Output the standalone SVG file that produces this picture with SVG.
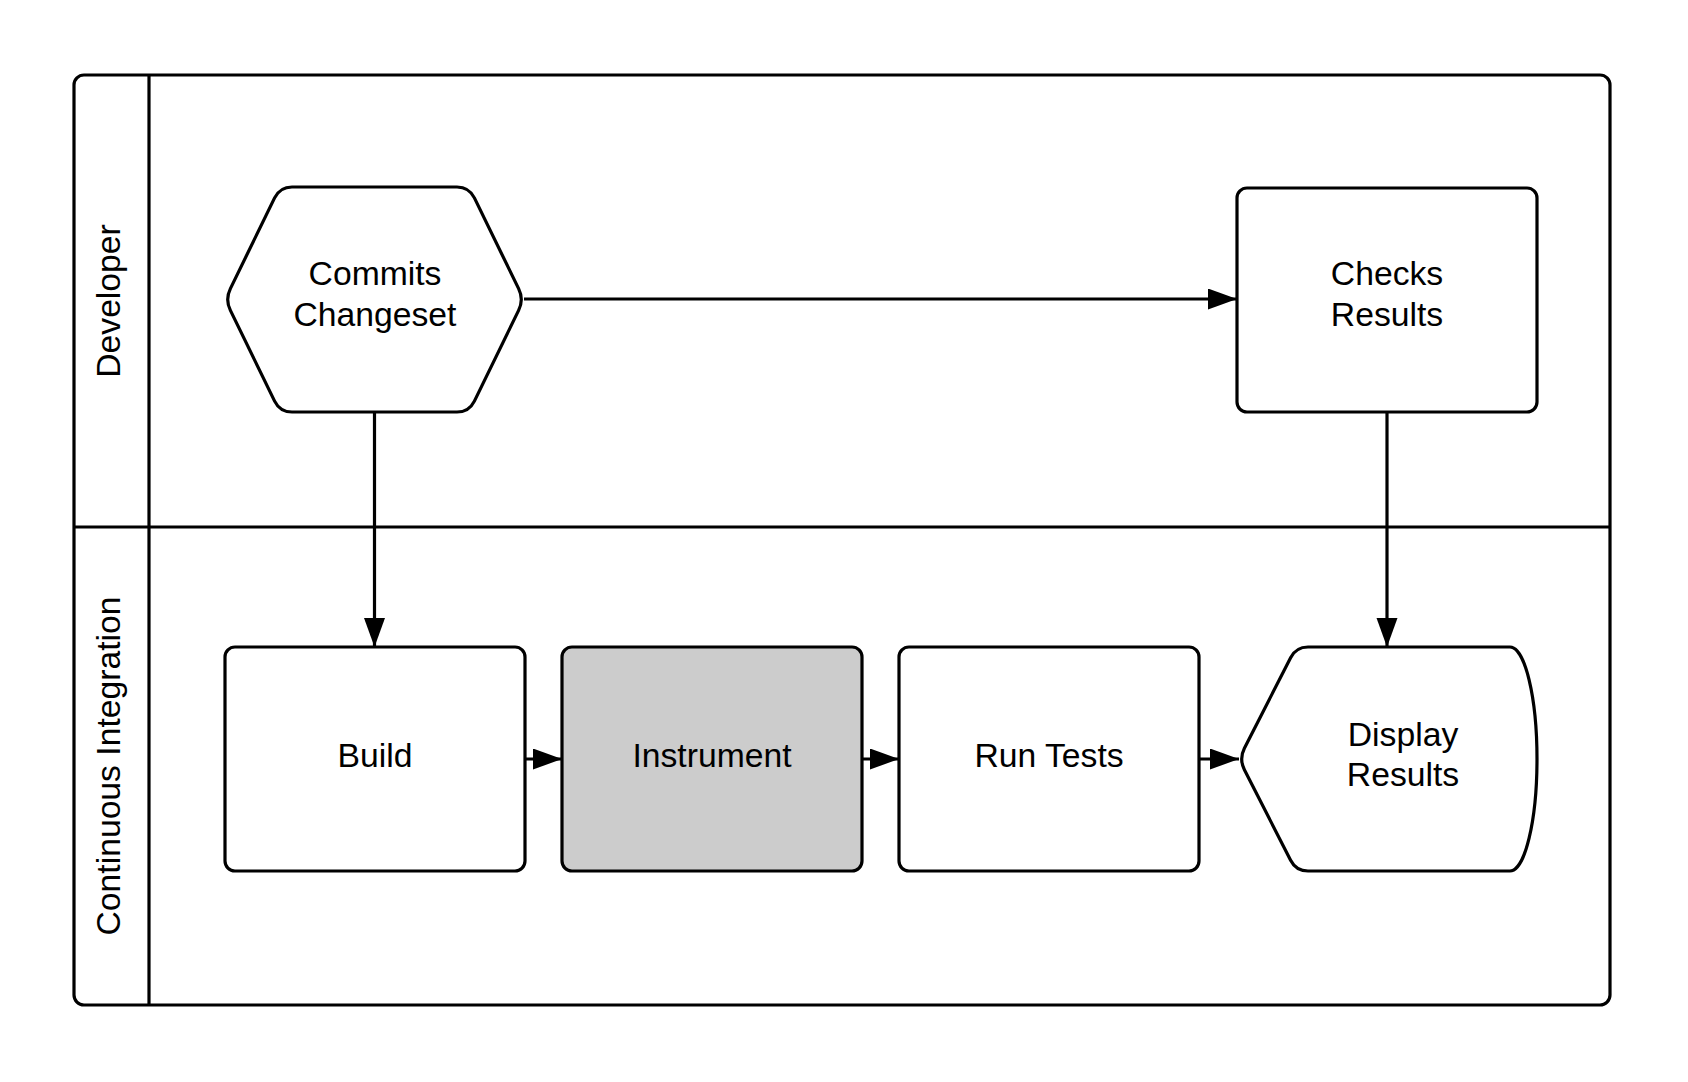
<svg xmlns="http://www.w3.org/2000/svg" width="1688" height="1082" viewBox="0 0 1688 1082">
  <defs>
    <style>
      .shape { fill: #ffffff; stroke: #000000; stroke-width: 3.2; stroke-linejoin: round; }
      .gray { fill: #cccccc; }
      .lane { fill: none; stroke: #000000; stroke-width: 3.2; }
      .label { font-family: "Liberation Sans", Arial, sans-serif; font-size: 33.7px; fill: #000000; text-anchor: middle; }
      .conn { fill: none; stroke: #000000; stroke-width: 3.2; }
    </style>
    <marker id="arrow" markerUnits="userSpaceOnUse" markerWidth="30" markerHeight="22" refX="29" refY="10.5" orient="auto">
      <path d="M0,0 L29,10.5 L0,21 Z" fill="#000000"/>
    </marker>
  </defs>
  <rect width="1688" height="1082" fill="#ffffff"/>

  <g id="pool">
    <rect class="lane" x="74" y="75" width="1536" height="930" rx="10" ry="10"/>
    <line class="lane" x1="149" y1="75" x2="149" y2="1005"/>
    <line class="lane" x1="74" y1="527" x2="1610" y2="527"/>
  </g>
  <g id="lane-developer">
    <text class="label" transform="translate(120,301) rotate(-90)">Developer</text>
  </g>
  <g id="lane-ci">
    <text class="label" transform="translate(120,766) rotate(-90)">Continuous Integration</text>
  </g>

  <g id="connectors">
    <line class="conn" x1="524" y1="299" x2="1237" y2="299" marker-end="url(#arrow)"/>
    <line class="conn" x1="374.5" y1="412" x2="374.5" y2="647" marker-end="url(#arrow)"/>
    <line class="conn" x1="1387" y1="412" x2="1387" y2="647" marker-end="url(#arrow)"/>
    <line class="conn" x1="525" y1="759" x2="562" y2="759" marker-end="url(#arrow)"/>
    <line class="conn" x1="862" y1="759" x2="899" y2="759" marker-end="url(#arrow)"/>
    <line class="conn" x1="1199" y1="759" x2="1239" y2="759" marker-end="url(#arrow)"/>
  </g>

  <g id="node-commits">
    <path class="shape" d="M292,187 L457,187 Q469,187 474.4,197.9 L518.6,288.6 Q524,299.5 518.6,310.4 L474.4,401.1 Q469,412 457,412 L292,412 Q280,412 274.6,401.1 L230.4,310.4 Q225,299.5 230.4,288.6 L274.6,197.9 Q280,187 292,187 Z"/>
    <text class="label" x="375" y="285">Commits</text>
    <text class="label" x="375" y="325.5">Changeset</text>
  </g>

  <g id="node-checks">
    <rect class="shape" x="1237" y="188" width="300" height="224" rx="10" ry="10"/>
    <text class="label" x="1387" y="285">Checks</text>
    <text class="label" x="1387" y="325.5">Results</text>
  </g>

  <g id="node-build">
    <rect class="shape" x="225" y="647" width="300" height="224" rx="10" ry="10"/>
    <text class="label" x="375" y="767">Build</text>
  </g>

  <g id="node-instrument">
    <rect class="shape gray" x="562" y="647" width="300" height="224" rx="10" ry="10"/>
    <text class="label" x="712" y="767">Instrument</text>
  </g>

  <g id="node-runtests">
    <rect class="shape" x="899" y="647" width="300" height="224" rx="10" ry="10"/>
    <text class="label" x="1049" y="767">Run Tests</text>
  </g>

  <g id="node-display">
    <path class="shape" d="M1308,647 L1510,647 A27,112 0 0 1 1510,871 L1308,871 Q1296,871 1290.6,860.3 L1244.4,769.7 Q1239,759 1244.4,748.3 L1290.6,657.7 Q1296,647 1308,647 Z"/>
    <text class="label" x="1403" y="745.5">Display</text>
    <text class="label" x="1403" y="786">Results</text>
  </g>
</svg>
